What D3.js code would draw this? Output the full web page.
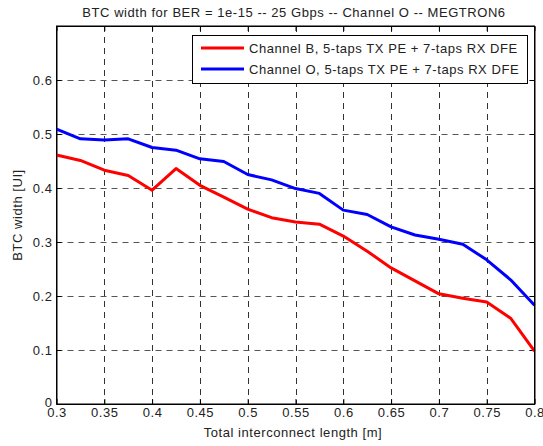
<!DOCTYPE html>
<html><head><meta charset="utf-8">
<script src="https://cdn.jsdelivr.net/npm/d3@7"></script>
<style>body{margin:0;background:#fff}svg{display:block}text{font-family:"Liberation Sans",Arial,sans-serif;fill:#222;font-size:13px;letter-spacing:0.55px}</style>
</head><body><svg id="c" width="543" height="446"></svg>
<script>
const lengths = [0.3,0.325,0.35,0.375,0.4,0.425,0.45,0.475,0.5,0.525,0.55,0.575,0.6,0.625,0.65,0.675,0.7,0.725,0.75,0.775,0.8];
const channelB = [0.461,0.451,0.433,0.423,0.396,0.436,0.405,0.383,0.361,0.345,0.337,0.333,0.311,0.283,0.252,0.228,0.204,0.196,0.189,0.159,0.098];
const channelO = [0.509,0.491,0.489,0.491,0.475,0.470,0.454,0.449,0.425,0.415,0.399,0.390,0.359,0.351,0.328,0.313,0.305,0.296,0.267,0.230,0.183];
const xTicks = [0.3,0.35,0.4,0.45,0.5,0.55,0.6,0.65,0.7,0.75,0.8];
const yTicks = [0,0.1,0.2,0.3,0.4,0.5,0.6];
const seriesNames = ["Channel B, 5-taps TX PE + 7-taps RX DFE","Channel O, 5-taps TX PE + 7-taps RX DFE"];
const seriesColors = ["#ff0000","#0000ff"];
const titleText = "BTC width for BER = 1e-15 -- 25 Gbps -- Channel O -- MEGTRON6";

const svg = d3.select("#c");
const L=56.5, R=534.5, T=26, B=404;
const x = d3.scaleLinear().domain([0.3,0.8]).range([L,R]);
const y = d3.scaleLinear().domain([0,0.7]).range([B,T]);
const fmt = d => d===0 ? "0" : String(d);

// grid
const g = svg.append("g");
g.selectAll(".gx").data(xTicks.slice(1,-1)).enter().append("line")
 .attr("x1",d=>Math.round(x(d))+0.5).attr("x2",d=>Math.round(x(d))+0.5).attr("y1",T).attr("y2",B)
 .attr("stroke","#333").attr("stroke-width",1).attr("stroke-dasharray","6,5");
g.selectAll(".gy").data(yTicks.slice(1)).enter().append("line")
 .attr("y1",d=>Math.round(y(d))+0.5).attr("y2",d=>Math.round(y(d))+0.5).attr("x1",L).attr("x2",R)
 .attr("stroke","#555").attr("stroke-width",1).attr("stroke-dasharray","6,5");

// axes
const ax = svg.append("g").attr("transform",`translate(0,${B})`)
 .call(d3.axisBottom(x).tickValues(xTicks).tickFormat(fmt).tickSizeInner(-5).tickSizeOuter(0).tickPadding(4));
const axT = svg.append("g").attr("transform",`translate(0,${T})`)
 .call(d3.axisTop(x).tickValues(xTicks).tickFormat("").tickSizeInner(-5).tickSizeOuter(0));
const ay = svg.append("g").attr("transform",`translate(${L},0)`)
 .call(d3.axisLeft(y).tickValues(yTicks).tickFormat(fmt).tickSizeInner(-5).tickSizeOuter(0).tickPadding(4));
const ayR = svg.append("g").attr("transform",`translate(${R},0)`)
 .call(d3.axisRight(y).tickValues(yTicks).tickFormat("").tickSizeInner(-5).tickSizeOuter(0));
[ax,axT,ay,ayR].forEach(a=>{a.selectAll("path").attr("stroke","#000");a.selectAll("line").attr("stroke","#000");
 a.selectAll("text").attr("font-size",null).attr("font-family",null).attr("fill","#222");});
ay.selectAll(".tick text").filter(d=>d===0).attr("dy","0.2em");

// lines
const line = d3.line().x((d,i)=>x(lengths[i])).y(d=>y(d));
[channelB,channelO].forEach((s,k)=>{
 svg.append("path").datum(s).attr("d",line).attr("fill","none").attr("stroke",seriesColors[k]).attr("stroke-width",3).attr("stroke-linejoin","round");
});

// frame
svg.append("rect").attr("x",L).attr("y",T).attr("width",R-L).attr("height",B-T).attr("fill","none").attr("stroke","#000").attr("stroke-width",1);

// legend
const lg = svg.append("g");
lg.append("rect").attr("x",192.5).attr("y",35.5).attr("width",335).attr("height",48).attr("fill","#fff").attr("stroke","#000");
seriesNames.forEach((n,k)=>{
 const yy = 48 + k*21;
 lg.append("line").attr("x1",201).attr("x2",244).attr("y1",yy).attr("y2",yy).attr("stroke",seriesColors[k]).attr("stroke-width",3);
 lg.append("text").attr("x",249).attr("y",yy+4.7).text(n);
});

// titles
svg.append("text").attr("x",294).attr("y",17).attr("text-anchor","middle").text(titleText);
svg.append("text").attr("x",293).attr("y",437).attr("text-anchor","middle").text("Total interconnect length [m]");
svg.append("text").attr("transform","translate(22,215) rotate(-90)").attr("text-anchor","middle").text("BTC width [UI]");
</script></body></html>
